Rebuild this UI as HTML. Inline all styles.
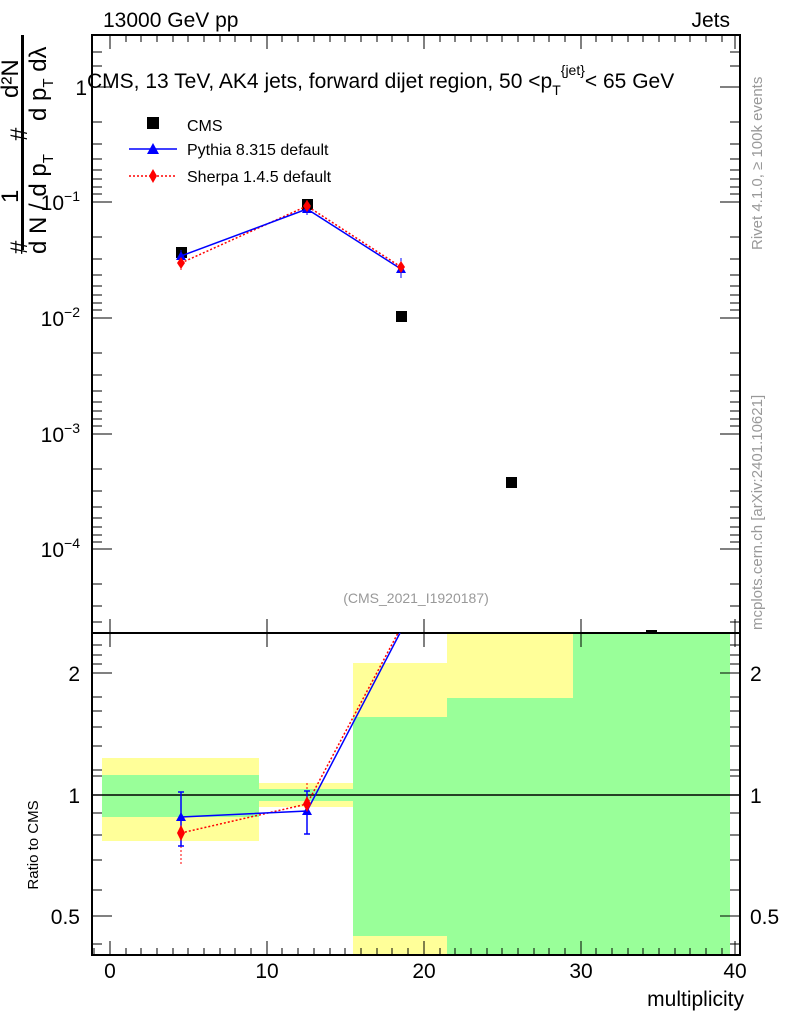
<!DOCTYPE html>
<html><head><meta charset="utf-8"><style>body{margin:0;background:#fff}svg{display:block}text{font-family:"Liberation Sans",sans-serif}</style></head><body>
<svg width="786" height="1024" viewBox="0 0 786 1024">
<rect x="102" y="758" width="157" height="83" fill="#ffff99"/>
<rect x="102" y="775" width="157" height="42" fill="#99ff99"/>
<rect x="259" y="783" width="94" height="24" fill="#ffff99"/>
<rect x="259" y="789" width="94" height="12" fill="#99ff99"/>
<rect x="353" y="663" width="94" height="292" fill="#ffff99"/>
<rect x="353" y="717" width="94" height="219" fill="#99ff99"/>
<rect x="447" y="633" width="126" height="322" fill="#ffff99"/>
<rect x="447" y="698" width="126" height="257" fill="#99ff99"/>
<rect x="573" y="633" width="157" height="322" fill="#99ff99"/>
<line x1="92" y1="795" x2="740" y2="795" stroke="#000" stroke-width="1.5"/>
<rect x="92" y="35" width="648" height="598" fill="none" stroke="#000" stroke-width="2"/>
<rect x="92" y="633" width="648" height="322" fill="none" stroke="#000" stroke-width="2"/>
<g stroke="#000" stroke-width="1">
<path d="M110 955v-14M267 955v-14M424 955v-14M581 955v-14M735 955v-14M110 633v-14M267 633v-14M424 633v-14M581 633v-14M735 633v-14M110 35v14M267 35v14M424 35v14M581 35v14M735 35v14M110 633v14M267 633v14M424 633v14M581 633v14M735 633v14"/>
<path d="M126 955v-7M141 955v-7M157 955v-7M173 955v-7M188 955v-7M204 955v-7M220 955v-7M235 955v-7M251 955v-7M282 955v-7M298 955v-7M314 955v-7M330 955v-7M345 955v-7M361 955v-7M377 955v-7M392 955v-7M408 955v-7M440 955v-7M455 955v-7M471 955v-7M487 955v-7M502 955v-7M518 955v-7M534 955v-7M549 955v-7M565 955v-7M596 955v-7M612 955v-7M628 955v-7M643 955v-7M659 955v-7M675 955v-7M690 955v-7M706 955v-7M722 955v-7M94 955v-7"/>
<path d="M126 35v7M141 35v7M157 35v7M173 35v7M188 35v7M204 35v7M220 35v7M235 35v7M251 35v7M282 35v7M298 35v7M314 35v7M330 35v7M345 35v7M361 35v7M377 35v7M392 35v7M408 35v7M440 35v7M455 35v7M471 35v7M487 35v7M502 35v7M518 35v7M534 35v7M549 35v7M565 35v7M596 35v7M612 35v7M628 35v7M643 35v7M659 35v7M675 35v7M690 35v7M706 35v7M722 35v7"/>
<path d="M92 87h20M92 202h20M92 318h20M92 434h20M92 549h20M740 87h-20M740 202h-20M740 318h-20M740 434h-20M740 549h-20"/>
<path d="M92 52h10M92 66h10M92 122h10M92 144h10M92 159h10M92 170h10M92 179h10M92 187h10M92 194h10M92 237h10M92 259h10M92 275h10M92 286h10M92 295h10M92 303h10M92 310h10M92 353h10M92 375h10M92 391h10M92 402h10M92 411h10M92 419h10M92 426h10M92 469h10M92 491h10M92 507h10M92 518h10M92 527h10M92 535h10M92 542h10M92 584h10M92 606h10M92 622h10"/>
<path d="M740 52h-10M740 66h-10M740 122h-10M740 144h-10M740 159h-10M740 170h-10M740 179h-10M740 187h-10M740 194h-10M740 237h-10M740 259h-10M740 275h-10M740 286h-10M740 295h-10M740 303h-10M740 310h-10M740 353h-10M740 375h-10M740 391h-10M740 402h-10M740 411h-10M740 419h-10M740 426h-10M740 469h-10M740 491h-10M740 507h-10M740 518h-10M740 527h-10M740 535h-10M740 542h-10M740 584h-10M740 606h-10M740 622h-10"/>
<path d="M92 673h20M92 795h20M92 916h20M740 673h-20M740 795h-20M740 916h-20"/>
<path d="M92 645h10M92 655h10M92 664h10M92 697h10M92 711h10M92 727h10M92 746h10M92 770h10M92 776h10M92 813h10M92 835h10M92 860h10M92 890h10M92 944h10M740 645h-10M740 655h-10M740 664h-10M740 697h-10M740 711h-10M740 727h-10M740 746h-10M740 770h-10M740 776h-10M740 813h-10M740 835h-10M740 860h-10M740 890h-10M740 944h-10"/>
</g>
<g font-size="21" text-anchor="middle"><text x="110" y="978">0</text><text x="267" y="978">10</text><text x="424" y="978">20</text><text x="581" y="978">30</text><text x="735" y="978">40</text></g>
<g font-size="21" text-anchor="end"><text x="87" y="95">1</text><text x="80" y="210">10<tspan font-size="14" dy="-9">−1</tspan></text><text x="80" y="326">10<tspan font-size="14" dy="-9">−2</tspan></text><text x="80" y="442">10<tspan font-size="14" dy="-9">−3</tspan></text><text x="80" y="557">10<tspan font-size="14" dy="-9">−4</tspan></text>
<text x="80" y="681">2</text><text x="80" y="803">1</text><text x="80" y="924">0.5</text></g>
<g font-size="21"><text x="750" y="681">2</text><text x="750" y="803">1</text><text x="750" y="924">0.5</text></g>
<text x="103" y="27" font-size="21">13000 GeV pp</text>
<text x="730" y="27" font-size="21" text-anchor="end">Jets</text>
<text x="744" y="1006" font-size="21" text-anchor="end">multiplicity</text>
<text x="87" y="88" font-size="21">CMS, 13 TeV, AK4 jets, forward dijet region, 50 &lt;p<tspan font-size="14" dy="7">T</tspan><tspan font-size="14" dy="-20">{jet}</tspan><tspan dy="13">&lt; 65 GeV</tspan></text>
<text x="416" y="603" font-size="14" fill="#999" text-anchor="middle">(CMS_2021_I1920187)</text>
<text transform="translate(762,250) rotate(-90)" font-size="15" fill="#999">Rivet 4.1.0, ≥ 100k events</text>
<text transform="translate(762,630) rotate(-90)" font-size="15" fill="#999">mcplots.cern.ch [arXiv:2401.10621]</text>
<text transform="translate(38,845) rotate(-90)" font-size="15" text-anchor="middle">Ratio to CMS</text>
<g font-size="24">
<text transform="translate(18,203) rotate(-90)">1</text>
<text transform="translate(18,98) rotate(-90)">d²N</text>
<text transform="translate(46,254) rotate(-90)">d N / d p<tspan font-size="15" dy="7">T</tspan></text>
<text transform="translate(46,121) rotate(-90)">d p<tspan font-size="15" dy="7">T</tspan><tspan dy="-7"> dλ</tspan></text>
<text transform="translate(27,254) rotate(-90)">#</text><text transform="translate(27,141) rotate(-90)">#</text>
</g>
<rect x="21" y="35" width="3" height="215" fill="#000"/>
<rect x="147" y="117" width="12" height="12" fill="#000"/>
<text x="187" y="131" font-size="16">CMS</text>
<line x1="129" y1="149" x2="177" y2="149" stroke="#00f" stroke-width="1.5"/><path d="M147 154l6-11 6 11z" fill="#00f"/>
<text x="187" y="155" font-size="16">Pythia 8.315 default</text>
<line x1="129" y1="176" x2="177" y2="176" stroke="#f00" stroke-width="1.5" stroke-dasharray="2,2"/><path d="M153 169l4 7-4 7-4-7z" fill="#f00"/>
<text x="187" y="182" font-size="16">Sherpa 1.4.5 default</text>
<g fill="#000"><rect x="176" y="247" width="11" height="11"/><rect x="302" y="199" width="11" height="11"/><rect x="396" y="311" width="11" height="11"/><rect x="506" y="477" width="11" height="11"/><rect x="646" y="630" width="11" height="4"/></g>
<polyline points="181,263 307,206 401,267" fill="none" stroke="#f00" stroke-width="1.5" stroke-dasharray="2,2"/>
<path d="M181 256v16M307 200v12M401 258v18" stroke="#f00" stroke-dasharray="2,2"/>
<polyline points="181,256 307,209 401,269" fill="none" stroke="#00f" stroke-width="1.5"/>
<path d="M181 250v14M307 203v12M401 258v20" stroke="#00f"/>
<g fill="#00f"><path d="M176 260l5-9 5 9z"/><path d="M302 213l5-9 5 9z"/><path d="M396 273l5-9 5 9z"/></g>
<g fill="#f00"><path d="M181 257l4 6-4 6-4-6z"/><path d="M307 200l4 6-4 6-4-6z"/><path d="M401 261l4 6-4 6-4-6z"/></g>
<polyline points="181,833 307,804 398,633" fill="none" stroke="#f00" stroke-width="1.5" stroke-dasharray="2,2"/>
<path d="M181 818v47M307 783v34" stroke="#f00" stroke-dasharray="2,2"/>
<polyline points="181,817 307,811 400,633" fill="none" stroke="#00f" stroke-width="1.5"/>
<path d="M181 792v54M307 791v43M178 792h6M178 846h6M304 791h6M304 834h6" stroke="#00f" stroke-width="1.5"/>
<g fill="#00f"><path d="M176 821l5-9 5 9z"/><path d="M302 815l5-9 5 9z"/></g>
<g fill="#f00"><path d="M181 825l4 8-4 8-4-8z"/><path d="M307 796l4 8-4 8-4-8z"/></g>
</svg>
</body></html>
